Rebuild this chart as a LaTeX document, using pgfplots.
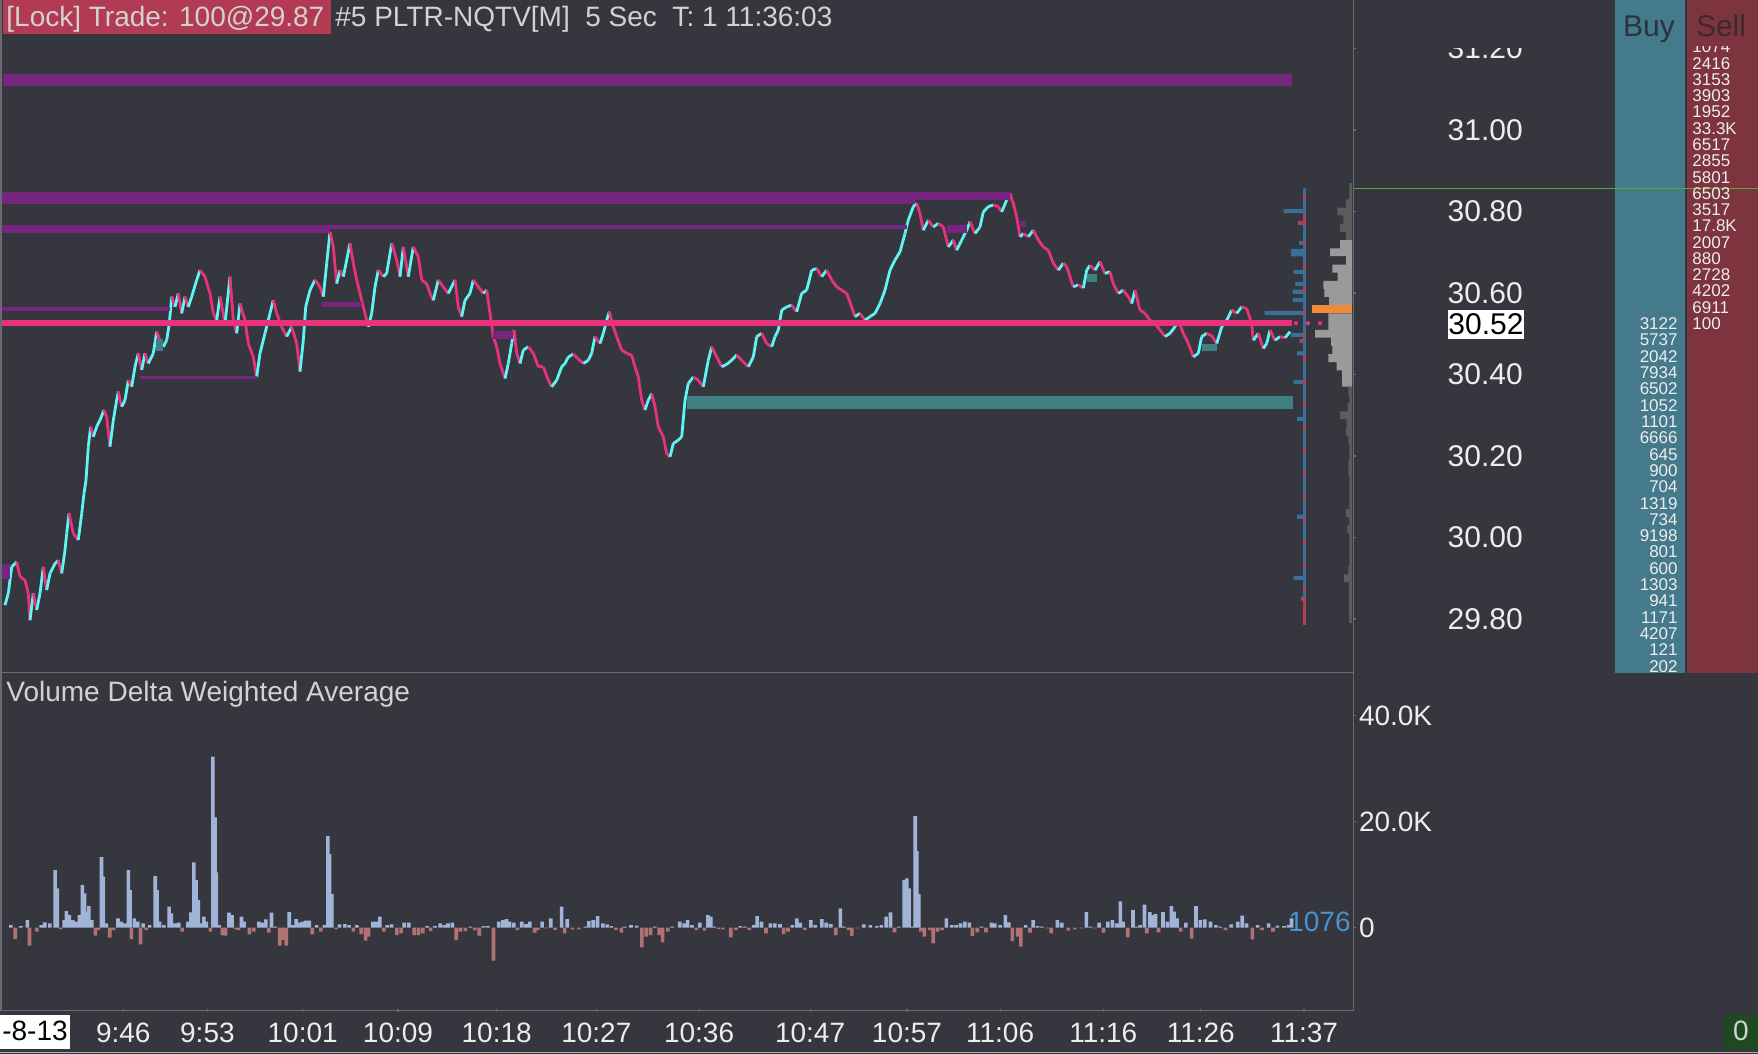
\documentclass[border=0pt]{standalone}
\usepackage{fontspec}
\setmainfont{Liberation Sans}
\usepackage{pgfplots}
\usepackage{pgfplotstable}
\pgfplotsset{compat=1.18}
\definecolor{bg}{HTML}{36363F}
\definecolor{cyanc}{HTML}{5FF5F5}
\definecolor{pinkc}{HTML}{E8337C}
\definecolor{purp}{HTML}{77267F}
\definecolor{tealc}{HTML}{408085}
\definecolor{sepc}{HTML}{6A6A70}
\definecolor{txt}{HTML}{D2D2D2}
\definecolor{tickc}{HTML}{EDEDED}
\definecolor{lockc}{HTML}{B23A52}
\definecolor{buyc}{HTML}{45798C}
\definecolor{sellc}{HTML}{7E343F}
\definecolor{volpos}{HTML}{A0B4D8}
\definecolor{volneg}{HTML}{B07272}
\definecolor{profl}{HTML}{9A9A9A}
\definecolor{profd}{HTML}{5C5C5C}
\definecolor{pocc}{HTML}{F08A38}
\definecolor{dblue}{HTML}{3A6F98}
\definecolor{dred}{HTML}{B0405A}
\definecolor{greenl}{HTML}{4CAF30}
\definecolor{vlab}{HTML}{4A92CC}
\definecolor{gbox}{HTML}{1F4A1F}
\definecolor{hdrb}{HTML}{2A3440}
\definecolor{hdrs}{HTML}{3A2A2E}
\newcommand{\fA}{\fontsize{14}{16}\selectfont}
\newcommand{\fP}{\fontsize{15}{17}\selectfont}
\newcommand{\fN}{\fontsize{8.5}{10}\selectfont}

\pgfplotstableread{
x p c
5 29.834 1
8.3 29.863 1
11.7 29.928 1
16.7 29.940 0
20 29.904 0
25 29.895 0
28.3 29.863 0
30 29.797 1
33.3 29.863 0
36.7 29.822 1
40 29.863 1
43.3 29.928 0
46.7 29.871 1
50 29.912 1
55 29.936 1
58.3 29.944 0
61.7 29.912 1
65 29.969 1
66.7 30.010 1
69 30.059 0
73.3 30.010 0
78.3 29.994 1
81.7 30.059 1
84 30.108 1
86 30.141 1
88.3 30.223 1
90.7 30.272 0
93.3 30.247 1
96.7 30.272 1
100 30.288 1
104 30.313 0
106.7 30.296 0
110 30.223 1
113.3 30.288 1
116.7 30.337 1
118.3 30.358 0
121.7 30.321 1
125 30.337 1
128.3 30.386 0
131.7 30.370 1
135 30.419 1
138.3 30.452 0
141.7 30.411 1
145 30.452 0
148.3 30.427 1
153.3 30.452 1
156.7 30.505 0
160 30.484 0
163.3 30.468 1
166.7 30.484 1
169.3 30.525 1
171.7 30.591 0
175 30.566 1
178.3 30.599 0
181.7 30.550 1
185 30.591 0
188.3 30.566 1
191.7 30.591 1
196.7 30.632 1
200 30.656 0
205 30.640 0
210 30.599 0
213.3 30.550 0
216.7 30.533 1
220 30.591 0
225 30.525 1
230 30.640 0
233.3 30.533 0
236.7 30.501 1
240 30.574 0
245 30.533 0
248.3 30.476 0
253.3 30.443 0
256.7 30.394 1
260 30.452 1
265 30.501 1
270 30.550 1
273.3 30.582 0
276.7 30.550 0
281.7 30.517 0
286.7 30.493 1
291.7 30.517 0
296.7 30.476 0
300 30.407 1
303.3 30.484 1
305.7 30.566 1
310 30.607 1
315 30.632 0
320 30.615 0
323.3 30.591 1
326.7 30.673 1
330 30.750 0
333.3 30.713 0
336.7 30.623 1
340 30.656 0
343.3 30.640 1
346.7 30.681 1
350 30.722 0
353.3 30.673 0
356.7 30.632 0
360 30.599 0
363.3 30.566 0
368.3 30.517 1
371.7 30.550 1
375 30.615 1
378.3 30.656 0
383.3 30.640 1
386.7 30.648 1
391.7 30.722 0
396.7 30.681 0
400 30.640 1
403.3 30.713 0
408.3 30.640 1
413.3 30.713 0
418.3 30.689 0
421.7 30.632 0
426.7 30.623 0
430 30.599 0
433.3 30.582 1
438.3 30.632 0
443.3 30.615 0
448.3 30.599 1
455 30.632 0
458.3 30.566 0
461.7 30.542 1
465 30.582 1
470 30.599 1
473.3 30.632 0
478.3 30.615 0
483.3 30.599 1
486.7 30.607 0
490 30.550 0
493.3 30.493 0
496.7 30.468 0
500 30.427 0
503.3 30.403 0
505 30.390 1
508.3 30.427 1
511.7 30.476 1
514 30.509 0
516.7 30.452 0
520 30.427 1
523.3 30.460 1
528.3 30.468 0
533.3 30.452 0
538.3 30.419 0
543.3 30.419 0
548.3 30.386 0
551.7 30.370 1
556.7 30.386 1
561.7 30.419 1
565 30.427 1
568.3 30.443 1
573.3 30.450 0
578.3 30.438 0
583.3 30.427 1
588.3 30.435 1
591.7 30.452 1
595 30.493 0
600 30.476 1
603.3 30.501 1
606.7 30.533 1
609.3 30.554 0
613.3 30.517 0
616.7 30.493 0
621.7 30.460 0
626.7 30.452 0
631.7 30.447 0
635 30.419 0
638.3 30.394 0
641.7 30.337 0
645 30.313 1
648.3 30.337 1
651.7 30.353 0
655 30.321 0
658.3 30.272 0
663.3 30.247 0
666.7 30.206 0
670 30.198 1
673.3 30.231 1
678.3 30.239 1
681.7 30.247 1
685 30.337 1
688.3 30.378 1
693.3 30.394 0
698.3 30.386 0
703.3 30.370 1
708.3 30.435 1
711.7 30.468 0
716.7 30.443 0
721.7 30.419 1
726.7 30.425 1
731.7 30.435 1
736.7 30.448 0
741.7 30.435 0
748.3 30.419 1
753.3 30.443 1
756.7 30.493 1
761.7 30.501 0
766.7 30.476 0
771.7 30.468 1
775 30.493 1
778.3 30.509 1
781.7 30.558 1
786.7 30.566 1
791.7 30.570 0
796.7 30.554 1
801.7 30.599 1
806.7 30.607 1
811.7 30.656 1
816.7 30.660 0
821.7 30.640 1
826.7 30.656 0
831.7 30.632 0
836.7 30.615 0
841.7 30.607 0
846.7 30.599 0
851.7 30.566 0
855 30.542 1
860 30.550 0
865 30.533 1
870 30.542 1
875 30.550 1
880 30.574 1
885 30.607 1
890 30.656 1
895 30.681 1
900 30.701 1
905 30.746 1
908.3 30.779 1
913.3 30.812 1
916.7 30.820 0
920 30.795 0
923.3 30.754 1
928.3 30.779 0
933.3 30.762 1
938.3 30.771 0
943.3 30.762 0
948.3 30.713 1
953.3 30.730 0
956.7 30.705 1
961.7 30.730 1
966.7 30.754 1
970 30.775 0
975 30.746 1
980 30.762 1
983.3 30.799 1
988.3 30.812 1
993.3 30.816 0
998.3 30.812 0
1001.7 30.799 1
1006.7 30.828 1
1010 30.844 0
1013.3 30.820 0
1016.7 30.787 0
1020 30.738 1
1023.3 30.746 0
1028.3 30.738 1
1033.3 30.754 0
1038.3 30.730 0
1043.3 30.713 0
1048.3 30.705 0
1053.3 30.673 0
1058.3 30.656 1
1063.3 30.673 0
1066.7 30.665 0
1070 30.640 0
1073.3 30.615 1
1078.3 30.620 0
1083.3 30.612 1
1086.7 30.656 1
1090 30.668 0
1095 30.656 1
1100 30.677 0
1105 30.648 1
1110 30.652 0
1113.3 30.623 0
1118.3 30.599 1
1123.3 30.607 0
1128.3 30.591 0
1131.7 30.574 1
1135 30.607 0
1140 30.558 0
1145 30.550 0
1150 30.533 0
1155 30.525 0
1160 30.509 0
1165 30.493 1
1170 30.501 1
1175 30.517 1
1178.3 30.533 0
1183.3 30.501 0
1188.3 30.476 0
1193.3 30.443 1
1198.3 30.452 1
1201.7 30.493 1
1206.7 30.501 0
1211.7 30.495 0
1216.7 30.476 1
1221.7 30.517 1
1226.7 30.533 1
1231.7 30.558 0
1236.7 30.550 1
1241.7 30.566 0
1246.7 30.562 0
1251.7 30.525 0
1253.3 30.484 1
1258.3 30.501 0
1263.3 30.464 1
1266.7 30.476 1
1270 30.509 0
1275 30.484 1
1280 30.493 0
1285 30.490 1
1290 30.505 1
}\pricedata

\begin{document}
\begin{tikzpicture}[x=0.5pt,y=-0.5pt]
\fill[bg] (0,0) rectangle (1758,1054);
\useasboundingbox (0,0) rectangle (1758,1054);
% DOM columns
\fill[buyc] (1615,0) rectangle (1685.3,673);
\fill[sellc] (1687,0) rectangle (1758,673);

% ===== price panel =====
\begin{axis}[
 at={(0pt,0pt)}, anchor=north west, scale only axis, width=676.5pt, height=336.5pt,
 xmin=0, xmax=1353, ymin=29.6675, ymax=31.319,
 clip=false, axis line style={draw=none},
 xtick=\empty,
 ytick={29.8,30,30.2,30.4,30.6,30.8,31,31.2},
 yticklabels={29.80,30.00,30.20,30.40,30.60,30.80,31.00,31.20},
 ytick pos=right, yticklabel pos=right, tick align=outside,
 major tick length=1.5pt, tick style={sepc, line width=0.6pt},
 yticklabel style={anchor=center, xshift=64.6pt, inner sep=0pt, text=tickc, font=\fP},
 colormap={updown}{color(0)=(pinkc) color(1)=(cyanc)},
 point meta min=0, point meta max=1,
]
\addplot[mesh, shader=flat corner, line width=1.4pt, point meta=\thisrow{c}] table[x=x,y=p] {\pricedata};
% zones
\addplot[fill=purp, draw=none] coordinates {(3,31.107) (1292,31.107) (1292,31.137) (3,31.137)};
\addplot[fill=purp, draw=none] coordinates {(0,30.819) (915,30.819) (915,30.848) (0,30.848)};
\addplot[fill=purp, draw=none] coordinates {(915,30.828) (1010,30.828) (1010,30.848) (915,30.848)};
\addplot[fill=purp, draw=none] coordinates {(0,30.758) (907,30.758) (907,30.767) (0,30.767)};
\addplot[fill=purp, draw=none] coordinates {(0,30.748) (330,30.748) (330,30.767) (0,30.767)};
\addplot[fill=purp, draw=none] coordinates {(0,30.556) (170,30.556) (170,30.566) (0,30.566)};
\addplot[fill=purp, draw=none] coordinates {(321.7,30.566) (361.7,30.566) (361.7,30.579) (321.7,30.579)};
\addplot[fill=purp, draw=none] coordinates {(140,30.388) (257.3,30.388) (257.3,30.396) (140,30.396)};
\addplot[fill=purp, draw=none] coordinates {(493,30.486) (513,30.486) (513,30.507) (493,30.507)};
\addplot[fill=purp, draw=none] coordinates {(1.7,29.897) (10,29.897) (10,29.935) (1.7,29.935)};
\addplot[fill=purp, draw=none] coordinates {(946.7,30.748) (966.7,30.748) (966.7,30.767) (946.7,30.767)};
\addplot[fill=purp, draw=none] coordinates {(1020,30.762) (1026,30.762) (1026,30.776) (1020,30.776)};
\addplot[fill=tealc, draw=none] coordinates {(686.7,30.316) (1292.7,30.316) (1292.7,30.347) (686.7,30.347)};
\addplot[fill=tealc, draw=none] coordinates {(1086.7,30.628) (1096.7,30.628) (1096.7,30.646) (1086.7,30.646)};
\addplot[fill=tealc, draw=none] coordinates {(1201.7,30.458) (1216.7,30.458) (1216.7,30.476) (1201.7,30.476)};
\addplot[fill=tealc, draw=none] coordinates {(156,30.458) (163,30.458) (163,30.486) (156,30.486)};
\addplot[fill=pinkc, draw=none] coordinates {(0,30.519) (1292,30.519) (1292,30.533) (0,30.533)};
\addplot[pinkc, line width=2.2pt, line cap=round, dash pattern=on 0pt off 6pt] coordinates {(1296,30.526) (1352,30.526)};
% delta line
\addplot[dblue, line width=1.6pt] coordinates {(1304.3,30.857) (1304.3,29.785)};
\addplot[dred, line width=1.6pt, dash pattern=on 2.5pt off 9pt] coordinates {(1304.3,30.84) (1304.3,29.86)};
\addplot[dred, line width=1.6pt] coordinates {(1304.3,30.795) (1304.3,30.767)};
\addplot[dred, line width=1.6pt] coordinates {(1304.3,29.855) (1304.3,29.785)};
\addplot[greenl, line width=0.6pt] coordinates {(1353.3,30.857) (1758,30.857)};
\end{axis}

% volume profile (gray)
\begin{axis}[
 at={(650pt,0pt)}, anchor=north west, scale only axis, width=26pt, height=336.5pt,
 xmin=0, xmax=52, x dir=reverse, ymin=29.6675, ymax=31.319, hide axis,
]
\addplot[xbar, bar width=0.0196, bar shift=0pt, fill=profd, draw=none] coordinates {
(2.7,30.86) (2.7,30.84) (6,30.82) (14.7,30.80) (8.7,30.78) (12,30.76) (6,30.74)
(3.7,30.36) (2.7,30.34) (4.3,30.32) (12,30.30) (5.3,30.28) (6,30.26) (3.7,30.24) (2.7,30.22) (2.7,30.20)
(3.7,30.18) (3.7,30.16) (2.7,30.14) (2.7,30.12) (2.7,30.10) (2.7,30.08) (6,30.06) (2.7,30.04) (4.7,30.02)
(2.7,30.00) (2.7,29.98) (2.7,29.96) (2.7,29.94) (3.7,29.92) (8,29.90) (3,29.88) (3,29.86) (3,29.84) (3,29.82) (3,29.80)};
\addplot[xbar, bar width=0.0196, bar shift=0pt, fill=profl, draw=none] coordinates {
(12,30.72) (22,30.70) (6,30.68) (19.7,30.66) (14.3,30.64) (28.7,30.62) (27.7,30.60) (23,30.58)
(23.7,30.54) (23.7,30.52) (37,30.50) (21,30.48) (19.7,30.46) (23.7,30.44) (15.3,30.42) (10,30.40) (10,30.38)};
\addplot[xbar, bar width=0.0196, bar shift=0pt, fill=pocc, draw=none] coordinates {(39.7,30.56)};
\end{axis}

% delta bars
\begin{axis}[
 at={(625.5pt,0pt)}, anchor=north west, scale only axis, width=26pt, height=336.5pt,
 xmin=0, xmax=52, x dir=reverse, ymin=29.6675, ymax=31.319, hide axis,
]
\addplot[xbar, bar width=0.01, bar shift=0pt, fill=dblue, draw=none] coordinates {
(19.3,30.801) (4,30.723) (12,30.703) (12,30.695) (9.3,30.652) (7.7,30.622) (10.3,30.603) (10.3,30.583)
(38.3,30.551) (12,30.497) (6,30.452) (9.3,30.382) (6,30.291) (6,30.051) (9.3,29.901)};
\addplot[xbar, bar width=0.01, bar shift=0pt, fill=dred, draw=none] coordinates {(5,30.772) (3.3,30.482) (2,29.850)};
\end{axis}

% ===== volume delta panel =====
\begin{axis}[
 at={(0pt,-336.5pt)}, anchor=north west, scale only axis, width=676.5pt, height=168pt,
 xmin=0, xmax=1353, ymin=-15340, ymax=48057,
 axis line style={draw=none}, scaled y ticks=false,
 xtick={123.3,207.4,302.7,398.0,496.7,596.3,699.1,810.1,907.0,1000.1,1103.3,1200.8,1304.0},
 xticklabels={9:46,9:53,10:01,10:09,10:18,10:27,10:36,10:47,10:57,11:06,11:16,11:26,11:37},
 ytick={0,20000,40000}, yticklabels={0,20.0K,40.0K},
 xtick pos=bottom, ytick pos=right, yticklabel pos=right, tick align=outside,
 major tick length=1.5pt, tick style={sepc, line width=0.6pt},
 xticklabel style={anchor=center, yshift=-10.5pt, inner sep=0pt, text=tickc, font=\fA},
 yticklabel style={anchor=west, xshift=1.3pt, inner sep=0pt, text=tickc, font=\fA},
]
\addplot[ybar, bar width=3.6, bar shift=0pt, fill=volpos, draw=none] coordinates {
(10.8,503) (20.8,315) (27.3,1447) (41.2,503) (44.7,1006) (49.9,818) (55.1,10882) (57.2,7422) (64.2,1447) (66.3,3145)
(69.4,2390) (72.9,1447) (75.9,1132) (79.4,2390) (82.4,8051) (84.6,6479) (86.7,3019) (88.9,4089) (91.9,1447) (101.5,13335)
(103.2,9624) (106.2,818) (118.0,1761) (121.4,1132) (124.5,818) (128.4,10882) (130.1,7108) (134.4,1761) (137.9,1132) (143.1,818)
(149.6,503) (155.2,9750) (157.0,7108) (159.6,1132) (163.9,503) (169.1,3963) (171.3,2705) (174.8,818) (178.7,944) (187.8,1132)
(190.8,2893) (193.8,12328) (196.0,8995) (198.2,5221) (200.3,818) (203.8,2076) (206.4,1132) (212.9,32268) (215.1,20820) (216.4,10441)
(219.0,503) (229.0,2831) (232.0,2390) (241.5,2076) (244.1,1132) (258.9,1132) (262.4,944) (265.8,1573) (271.5,2831) (275.4,189)
(289.2,2956) (292.7,503) (296.2,1635) (299.2,944) (302.3,1132) (305.7,1321) (309.2,1321) (316.6,503) (324.4,503) (327.8,17298)
(329.6,13901) (331.7,6353) (339.5,629) (344.8,692) (349.1,503) (356.9,503) (372.9,1132) (376.4,1132) (379.9,2076) (387.2,503)
(391.6,629) (404.2,944) (408.9,944) (427.1,315) (435.0,315) (440.2,818) (444.5,503) (448.0,818) (452.3,944) (470.5,189)
(483.5,315) (487.9,315) (498.7,1132) (503.0,1447) (506.5,1635) (509.5,1132) (513.9,944) (521.7,1132) (526.0,692) (529.9,1132)
(542.1,1132) (550.7,1761) (561.6,3963) (567.2,1635) (585.4,189) (588.9,1258) (593.2,1447) (597.6,2202) (602.8,818) (607.1,629)
(611.4,315) (624.5,189) (631.0,503) (636.6,377) (654.8,189) (672.2,189) (679.7,1132) (684.1,818) (687.6,1447) (692.0,503)
(699.9,944) (707.9,2390) (710.9,2076) (714.0,189) (740.4,315) (744.8,189) (753.6,503) (757.1,2202) (761.5,1132) (770.4,818)
(774.8,818) (780.0,692) (792.4,503) (796.8,1761) (800.3,944) (810.8,1447) (815.2,503) (821.8,1635) (826.2,944) (830.7,692)
(840.3,3648) (843.9,189) (863.7,629) (870.3,503) (876.9,315) (881.3,503) (886.1,2076) (890.5,2893) (898.9,189) (904.2,8995)
(906.8,9309) (909.0,7422) (912.1,189) (915.2,21072) (916.9,14467) (918.7,6353) (946.4,1761) (951.7,503) (956.1,503) (960.5,818)
(964.9,1132) (969.3,944) (981.6,189) (991.3,944) (994.8,818) (1000.1,503) (1005.4,2390) (1008.9,1006) (1025.6,503) (1033.1,1447)
(1037.5,315) (1041.9,189) (1057.3,1447) (1061.7,944) (1086.4,2956) (1090.3,189) (1099.1,944) (1107.9,1132) (1112.3,1447) (1116.7,818)
(1120.3,4969) (1123.3,1132) (1133.0,3334) (1136.6,189) (1140.1,503) (1144.5,4340) (1149.8,2956) (1152.4,2390) (1155.5,2579) (1163.0,2956)
(1167.4,1132) (1171.3,4089) (1174.0,3019) (1177.0,1761) (1185.8,944) (1196.0,4089) (1200.4,1447) (1204.8,1573) (1210.5,1132) (1215.8,503)
(1220.2,189) (1231.2,629) (1237.8,1132) (1242.2,2264) (1246.6,818) (1257.6,503) (1268.6,818) (1277.4,377) (1284.0,315) (1288.4,503)
(1291.5,1761)};
\addplot[ybar, bar width=3.6, bar shift=0pt, fill=volneg, draw=none] coordinates {
(15.2,-2139) (29.5,-3397) (36.9,-755) (60.7,-252) (95.4,-1510) (98.4,-440) (109.7,-1887) (113.6,-440) (131.4,-2139) (140.5,-3145)
(146.1,-440) (182.1,-755) (210.3,-755) (222.5,-1384) (225.5,-1510) (235.5,-252) (238.5,-440) (249.3,-1258) (253.7,-755) (268.9,-944)
(279.7,-3397) (282.7,-2327) (286.2,-3397) (312.2,-1258) (320.9,-755) (336.1,-252) (353.4,-755) (361.2,-1195) (365.6,-2453) (368.6,-1698)
(383.8,-755) (396.8,-1384) (401.1,-1069) (414.1,-1384) (418.5,-1384) (422.8,-1069) (430.6,-629) (456.2,-2327) (460.5,-755) (465.3,-629)
(474.9,-440) (479.2,-1510) (493.5,-6227) (517.3,-440) (534.7,-944) (537.7,-440) (546.4,-126) (555.1,-440) (564.6,-1069) (572.4,-315)
(578.9,-315) (615.8,-440) (621.4,-944) (641.8,-3711) (646.1,-1698) (650.5,-1384) (659.2,-1384) (662.6,-2768) (667.8,-755)
(696.4,-440) (704.3,-566) (718.4,-252) (722.8,-315) (730.7,-1824) (736.0,-440) (749.2,-440) (766.0,-1069) (783.6,-1195) (788.0,-755)
(804.7,-440) (835.9,-1384) (848.3,-440) (851.8,-1573) (857.1,-126) (894.5,-881) (920.9,-755) (924.4,-1698) (929.7,-440) (933.2,-2956)
(937.6,-755) (942.0,-440) (972.4,-1573) (977.2,-881) (986.0,-881) (1012.4,-2516) (1017.7,-1698) (1020.8,-3585) (1030.0,-944) (1047.6,-126)
(1051.2,-1069) (1068.3,-566) (1074.9,-315) (1081.5,-126) (1094.7,-126) (1103.5,-944) (1127.7,-1824) (1146.7,-1069) (1158.5,-881) (1180.6,-755)
(1191.6,-2076) (1225.5,-440) (1252.3,-2202) (1262.0,-440) (1273.0,-755)};
\end{axis}

% separators
\fill[sepc] (0,0) rectangle (1.8,1011);
\draw[sepc, line width=0.7pt] (1353.3,0) -- (1353.3,1011);
\draw[sepc, line width=0.7pt] (0,672.7) -- (1353.3,672.7);
\draw[sepc, line width=0.7pt] (0,1010.5) -- (1353.3,1010.5);
\draw[white!70!black, line width=0.8pt] (0,1052.5) -- (1758,1052.5);

% DOM numbers
\foreach \v [count=\i from 0] in {1074,2416,3153,3903,1952,33.3K,6517,2855,5801,6503,3517,17.8K,2007,880,2728,4202,6911,100}
  \node[anchor=base west, inner sep=0pt, text=tickc, font=\fN] at (1692,{46.6+16.27*\i+6.3}) {\v};
\foreach \v [count=\i from 0] in {3122,5737,2042,7934,6502,1052,1101,6666,645,900,704,1319,734,9198,801,600,1303,941,1171,4207,121,202}
  \node[anchor=base east, inner sep=0pt, text=tickc, font=\fN] at (1678,{323.2+16.32*\i+6.3}) {\v};
% header cover
\fill[bg] (1354.3,0) rectangle (1615,48.5);
\fill[buyc] (1615,0) rectangle (1685.3,46);
\fill[sellc] (1687,0) rectangle (1758,46);
\node[anchor=base, inner sep=0pt, text=hdrb, font=\fP] at (1649,36.5) {Buy};
\node[anchor=base, inner sep=0pt, text=hdrs, font=\fP] at (1721,36.5) {Sell};

% current price label
\node[fill=white, text=black, inner sep=0pt, minimum width=36pt, minimum height=14.5pt, font=\fP] at (1486,324) {30.52};

% title
\fill[lockc] (3,0) rectangle (331,33.6);
\node[anchor=base west, inner sep=0pt, text=txt, font=\fA] at (6,26.8) {[Lock] Trade: 100@29.87};
\node[anchor=base west, inner sep=0pt, text=txt, font=\fA] at (335,26.8) {\#5 PLTR-NQTV[M]\ \ 5 Sec\ \ T: 1 11:36:03};
\node[anchor=base west, inner sep=0pt, text=txt, font=\fA] at (6,701.5) {Volume Delta Weighted Average};
\node[anchor=base east, inner sep=0pt, text=vlab, font=\fA] at (1351,931.5) {1076};

% bottom boxes
\fill[white] (0,1015) rectangle (69.5,1049.4);
\node[anchor=base, inner sep=0pt, text=black, font=\fA] at (35,1040.7) {-8-13};
\fill[gbox] (1724,1015) rectangle (1758,1049.4);
\node[anchor=base, inner sep=0pt, text=txt, font=\fA] at (1741,1040.7) {0};
\end{tikzpicture}
\end{document}
